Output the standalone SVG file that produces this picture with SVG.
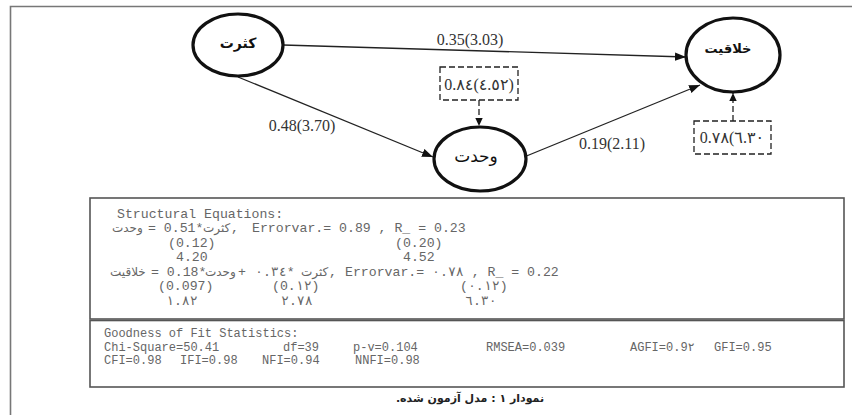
<svg xmlns="http://www.w3.org/2000/svg" width="852" height="415" viewBox="0 0 852 415">
<style>
.node ellipse{fill:#fff;stroke:#111;stroke-width:3.2}
.nl{font-family:"DejaVu Sans",sans-serif;fill:#111;text-anchor:middle}
.edge{stroke:#222;stroke-width:1.3;fill:none}
.dash{stroke:#222;stroke-width:1.3;fill:none;stroke-dasharray:6,3}
.lab{font-family:"Liberation Serif","DejaVu Sans",serif;font-size:16px;fill:#333}
.box{fill:#fff;stroke:#555;stroke-width:1.6}
.mono{font-family:"Liberation Mono","DejaVu Sans Mono",monospace;fill:#666}
.s{font-size:13.2px}
.g{font-size:12px}
.ar{font-family:"DejaVu Sans",sans-serif;fill:#666;font-size:12px}
.lo{unicode-bidi:bidi-override;direction:ltr}
.cap{font-family:"DejaVu Sans",sans-serif;font-size:11px;font-weight:bold;fill:#222}
</style>
<defs>
<marker id="ah" markerWidth="12" markerHeight="10" refX="11" refY="5" orient="auto" markerUnits="userSpaceOnUse"><path d="M0,0.8 L11,5 L0,9.2 z" fill="#111"/></marker>
<marker id="ahs" markerWidth="9" markerHeight="9" refX="8" refY="4.5" orient="auto" markerUnits="userSpaceOnUse"><path d="M0,0.8 L8,4.5 L0,8.2 z" fill="#111"/></marker>
</defs>
<rect width="852" height="415" fill="#fff"/>
<path d="M10.5,415 V6.5 H852" fill="none" stroke="#777" stroke-width="1.6"/>

<g id="connectors">
<line class="edge" x1="283" y1="45" x2="686" y2="57" marker-end="url(#ah)"/>
<line class="edge" x1="238" y1="77" x2="433" y2="157" marker-end="url(#ah)"/>
<line class="edge" x1="524" y1="157" x2="700" y2="85" marker-end="url(#ah)"/>
<line class="dash" x1="479" y1="100" x2="479" y2="126" marker-end="url(#ahs)"/>
<line class="dash" x1="733" y1="121" x2="733" y2="93" marker-end="url(#ahs)"/>
<text class="lab" x="470" y="45" text-anchor="middle">0.35(3.03)</text>
<text class="lab" x="302" y="131" text-anchor="middle">0.48(3.70)</text>
<text class="lab" x="612" y="149" text-anchor="middle">0.19(2.11)</text>
</g>

<g id="node-kasrat" class="node">
<ellipse cx="238" cy="45" rx="45" ry="31"/>
<text class="nl" x="238" y="48" font-size="14" font-weight="bold">کثرت</text>
</g>
<g id="node-vahdat" class="node">
<ellipse cx="480" cy="159" rx="46" ry="32"/>
<text class="nl" x="476" y="162" font-size="17">وحدت</text>
</g>
<g id="node-khalaghiat" class="node">
<ellipse cx="733" cy="55" rx="47" ry="37"/>
<text class="nl" x="728" y="53" font-size="13" font-weight="bold">خلاقیت</text>
</g>

<g id="err-vahdat">
<rect class="dash" x="440" y="67" width="78" height="33"/>
<text class="lab lo" x="479" y="90" text-anchor="middle" font-size="15">0.۸٤(٤.٥٢)</text>
</g>
<g id="err-khalaghiat">
<rect class="dash" x="694" y="121" width="77" height="33"/>
<text class="lab lo" x="732" y="143" text-anchor="middle" font-size="15">0.۷۸(٦.۳۰</text>
</g>

<g id="structural-equations">
<rect class="box" x="90" y="198" width="754" height="121"/>
<text class="mono s" x="117" y="218">Structural Equations:</text>
<text class="ar" x="112" y="232">وحدت</text>
<text class="mono s" x="148" y="232">= 0.51*</text>
<text class="ar" x="203" y="232">کثرت</text>
<text class="mono s" x="231" y="232">,</text>
<text class="mono s" x="252" y="232">Errorvar.= 0.89 , R_ = 0.23</text>
<text class="mono s" x="168" y="246.5">(0.12)</text>
<text class="mono s" x="395" y="246.5">(0.20)</text>
<text class="mono s" x="176" y="261">4.20</text>
<text class="mono s" x="403" y="261">4.52</text>
<text class="ar" x="110" y="275.5">خلاقیت</text>
<text class="mono s" x="151" y="275.5">= 0.18*</text>
<text class="ar" x="205" y="275.5">وحدت</text>
<text class="mono s" x="238" y="275.5">+</text>
<text class="mono s lo" x="255" y="275.5">۰.۳٤*</text>
<text class="ar" x="301" y="275.5">کثرت</text>
<text class="mono s" x="329" y="275.5">,</text>
<text class="mono s lo" x="345" y="275.5">Errorvar.= ۰.۷۸ , R_ = 0.22</text>
<text class="mono s" x="158" y="290">(0.097)</text>
<text class="mono s lo" x="272" y="290">(0.۱۲)</text>
<text class="mono s lo" x="460" y="290">(۰.۱۲)</text>
<text class="mono s lo" x="166" y="304.5">۱.۸۲</text>
<text class="mono s lo" x="281" y="304.5">۲.۷۸</text>
<text class="mono s lo" x="465" y="304.5">٦.۳۰</text>
</g>

<g id="goodness-of-fit">
<rect class="box" x="90" y="320.5" width="754" height="66.5"/>
<text class="mono g" x="104" y="337">Goodness of Fit Statistics:</text>
<text class="mono g" x="104" y="351">Chi-Square=50.41</text>
<text class="mono g" x="283" y="351">df=39</text>
<text class="mono g" x="353" y="351">p-v=0.104</text>
<text class="mono g" x="486" y="351">RMSEA=0.039</text>
<text class="mono g lo" x="630" y="351">AGFI=0.9۲</text>
<text class="mono g" x="714" y="351">GFI=0.95</text>
<text class="mono g" x="104" y="364">CFI=0.98</text>
<text class="mono g" x="180" y="364">IFI=0.98</text>
<text class="mono g" x="262" y="364">NFI=0.94</text>
<text class="mono g" x="355" y="364">NNFI=0.98</text>
</g>

<text id="caption" class="cap" x="470" y="402" text-anchor="middle" direction="rtl">نمودار ۱ : مدل آزمون شده.</text>
</svg>
